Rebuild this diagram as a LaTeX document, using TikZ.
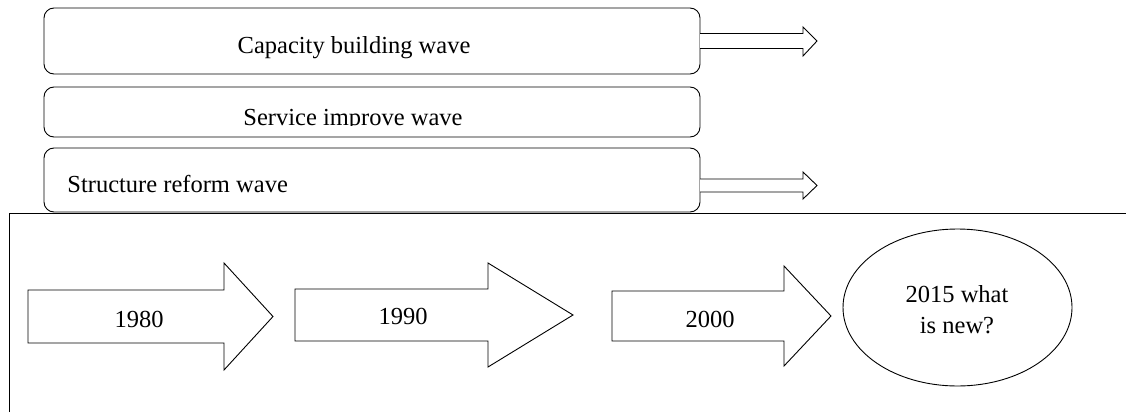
\documentclass[tikz,border=0pt]{standalone}
\usepackage{fontspec}
\setmainfont{Liberation Serif}
\usetikzlibrary{shapes.geometric}
\begin{document}
\begin{tikzpicture}[x=1pt,y=-1pt,line width=0.9pt,
  txt/.style={inner sep=0pt,anchor=base,font=\fontsize{24.5}{31}\selectfont},
  wavebox/.style={draw,rounded corners=10pt},
  blockarrow/.style={draw,fill=white,line join=miter}]
\useasboundingbox (0,0) rectangle (1126,412);
% frame
\draw[line width=1pt] (9,412) -- (9,213) -- (1126,213);
% wave boxes
\draw[wavebox] (44,8) rectangle (700,74);
\coordinate (b1e) at (700,41);
\node[txt] (cap) at (354,53) {Capacity building wave};
\draw[wavebox] (44,87) rectangle (700,137);
\begin{scope}
  \clip (44,87) rectangle (700,125.5);
  \node[txt] (serv) at (353,125) {Service improve wave};
\end{scope}
\draw[wavebox] (44,148) rectangle (700,212);
\coordinate (b3e) at (700,185.5);
\node[txt,anchor=base west] (struct) at (67,192) {Structure reform wave};
% small block arrows
\draw[blockarrow] (b1e) ++(0,-7.5) -- (803,33.5) -- (803,27) -- (817,41) -- (803,56) -- (803,48.5) -- (700,48.5);
\draw[blockarrow] (b3e) ++(0,-6.5) -- (803,179) -- (803,172) -- (817,185.5) -- (803,199) -- (803,192) -- (700,192);
% timeline arrows
\draw[blockarrow] (28,290) -- (224,290) -- (224,263) -- (273,316.5) -- (224,370) -- (224,343) -- (28,343) -- cycle;
\node[txt] (y1980) at (139,327) {1980};
\draw[blockarrow] (295,289) -- (488,289) -- (488,263) -- (573,315) -- (488,367) -- (488,341) -- (295,341) -- cycle;
\node[txt] (y1990) at (403,324) {1990};
\draw[blockarrow] (612,291) -- (784,291) -- (784,266) -- (831,316) -- (784,366) -- (784,341) -- (612,341) -- cycle;
\node[txt] (y2000) at (710,327) {2000};
\node[draw,ellipse,minimum width=229pt,minimum height=157pt,inner sep=0pt] (e2015) at (957.5,307.5) {};
\node[txt] (l1) at (957,302) {2015 what};
\node[txt] (l2) at (957,333) {is new?};
\end{tikzpicture}
\end{document}
